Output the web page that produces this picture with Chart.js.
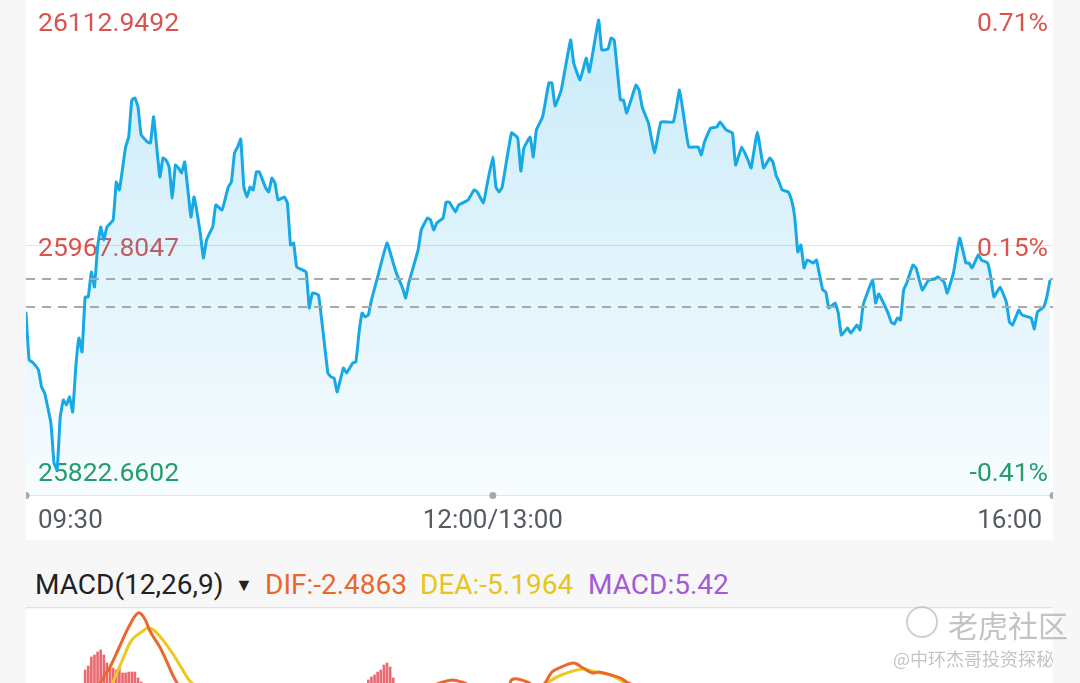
<!DOCTYPE html>
<html>
<head>
<meta charset="utf-8">
<script src="https://cdn.jsdelivr.net/npm/chart.js"></script>
<style>
  html, body { margin: 0; padding: 0; background: #f7f7f7; width: 1080px; height: 683px; overflow: hidden; font-family: Roboto, "Noto Sans", sans-serif; }
  #main { position: absolute; left: 26px; top: 0; background: #fff; }
  #macd { position: absolute; left: 26px; top: 609px; background: #fff; }
  #sep { position: absolute; left: 26px; top: 607px; width: 1027px; height: 1px; background: #e2e2e2; }
  .hdr { position: absolute; top: 567px; font-size: 28px; line-height: 36px; white-space: nowrap; }
  .wm { position: absolute; color: rgba(175,175,175,0.75); white-space: nowrap; font-family: "Noto Sans CJK SC", sans-serif; }
</style>
</head>
<body>
<canvas id="main" width="1027" height="540"></canvas>
<div id="sep"></div>
<canvas id="macd" width="1027" height="200"></canvas>
<div class="hdr" style="left:35px;color:#222;">MACD(12,26,9)</div>
<div class="hdr" style="left:235px;color:#222;font-size:18px;top:567px;">&#9660;</div>
<div class="hdr" style="left:265px;color:#e8692e;">DIF:-2.4863</div>
<div class="hdr" style="left:420px;color:#e6c521;">DEA:-5.1964</div>
<div class="hdr" style="left:588px;color:#a35bd6;">MACD:5.42</div>
<div class="wm" style="left:906px;top:606px;width:28px;height:28px;border:2px solid rgba(195,195,195,0.8);border-radius:50%;"></div>
<div class="wm" style="left:948px;top:602px;font-size:30px;">老虎社区</div>
<div class="wm" style="left:893px;top:645px;font-size:18px;">@中环杰哥投资探秘</div>
<script>
// intraday price, minute index from 09:30 (0) to 16:00 (330), lunch break removed
const minutes = [0,1,2,4,5,6,8,9,10,11,12,13,14,15,16,17,18,19,20,21,22,23,24,25,26,28,29,30,32,33,34,35,36,37,39,40,41,43,44,45,46,47,48,49,50,51,53,54,56,57,58,59,60,61,63,65,66,67,68,69,70,71,72,73,74,75,77,78,79,80,81,83,84,85,86,87,90,91,92,94,97,98,99,100,102,103,105,106,107,108,109,110,111,113,116,118,119,121,122,123,126,127,129,130,131,132,134,135,136,138,139,142,144,145,147,148,150,151,152,153,156,158,159,160,162,163,164,166,168,169,170,172,175,176,178,180,181,184,185,187,188,189,190,191,192,193,196,197,198,200,202,204,208,210,212,213,216,217,218,220,222,223,225,227,228,230,232,233,235,237,239,240,241,242,243,245,246,247,248,249,250,251,253,254,256,257,258,260,261,262,264,265,267,268,269,272,273,274,277,278,279,280,281,282,283,285,286,288,290,292,293,295,296,298,300,302,303,304,306,307,309,310,311,313,315,316,317,319,320,322,323,324,325,327,328,329];
const prices = [25923.9,25893.6,25892.3,25887.2,25876.2,25872.3,25853.0,25827.2,25822.7,25856.9,25867.8,25864.6,25869.8,25860.1,25889.1,25907.8,25898.8,25934.3,25934.3,25950.4,25940.7,25966.5,25979.4,25971.0,25979.4,25983.9,26008.4,26003.3,26031.0,26037.5,26061.3,26062.6,26056.8,26038.8,26034.3,26033.6,26050.4,26011.7,26023.9,26022.6,26018.1,25998.1,26019.4,26017.5,26014.3,26021.4,25985.9,25998.8,25975.5,25959.4,25971.0,25975.5,25979.4,25993.6,25990.4,26005.2,26008.4,26027.2,26031.0,26036.2,26005.2,25998.8,26005.2,26003.3,26014.9,26014.9,26004.6,26002.0,26011.0,26007.8,25996.8,25998.8,25994.9,25967.8,25969.1,25953.6,25950.4,25927.2,25936.8,25935.6,25885.2,25882.7,25882.0,25873.0,25888.5,25885.2,25891.7,25892.3,25911.0,25923.9,25921.4,25922.7,25932.3,25947.2,25969.1,25956.2,25949.7,25940.1,25933.6,25943.3,25964.6,25977.5,25985.2,25983.9,25977.5,25982.0,25985.2,25995.5,25995.5,25989.1,25993.6,25996.8,26003.3,26002.0,25994.9,26005.2,26024.6,26005.2,26002.0,26005.2,26040.1,26036.8,26015.5,26030.4,26037.5,26024.6,26042.0,26050.4,26072.3,26072.3,26057.5,26067.8,26100.1,26085.2,26074.2,26088.4,26079.4,26112.9,26093.6,26094.2,26101.3,26100.1,26080.7,26061.3,26061.3,26053.0,26071.0,26067.8,26056.8,26046.5,26027.2,26047.2,26047.2,26067.8,26042.0,26031.0,26031.0,26025.9,26034.3,26043.3,26043.9,26047.2,26042.0,26040.1,26019.4,26031.0,26022.6,26017.5,26040.7,26017.5,26023.9,26021.4,26013.0,26008.4,26003.3,26002.0,25996.8,25985.9,25963.3,25967.8,25953.0,25958.1,25956.2,25958.1,25938.8,25937.5,25927.2,25930.4,25923.9,25909.7,25914.3,25911.0,25916.2,25913.0,25929.1,25945.2,25930.4,25936.2,25923.9,25918.1,25916.8,25920.7,25919.4,25938.8,25943.3,25954.9,25953.0,25938.8,25945.2,25945.9,25947.2,25943.9,25936.8,25949.7,25972.3,25956.2,25956.2,25953.0,25961.4,25958.1,25956.2,25947.2,25934.3,25940.7,25931.0,25918.1,25916.2,25925.9,25922.7,25921.4,25920.7,25913.6,25924.6,25927.8,25934.3,25944.6];

const priceLevels = [26112.9492, 25967.8047, 25822.6602];
const priceLabels = ['26112.9492', '25967.8047', '25822.6602'];
const pctLabels = ['0.71%', '0.15%', '-0.41%'];
const refLines = [25945.9, 25928.0];   // dashed: average / previous close
const tickMinutes = [0, 150, 330];
const tickLabels = ['09:30', '12:00/13:00', '16:00'];

// MACD panel (only the top of it is in view)
const difMinutes = [0,10,20,24,27,30,33,36,38,40,43,45,48,55,70,90,100,115,125,134,137,140,145,155,156,158,161,165,167,169,172,176,179,182,184,188,191,193,200,215,230,245,260,275,290,305,320,329];
const difValues  = [0,-5,3,9.5,13.25,18.25,23.25,26.75,25.5,22,18.25,15,10,2,-3,-2,-6,5,7,9.5,10,9.5,8,8.5,10,10.25,9.5,8,9.5,12,13.25,14.25,13,11.75,12,11.25,10.5,9.5,7,4,3,1,-3,-6,-7,-5,-4,-2.4863];
const deaMinutes = [0,15,25,28,31,34,38,39,41,44,47,50,53,60,75,90,105,120,135,150,165,168,172,179,183,188,192,205,220,240,260,280,300,320,329];
const deaValues  = [0,-2,2,9.5,15,20,22.5,23,22.5,20,16.75,13,9.5,6,2,0,-2,2,5,6,7,9.5,11.25,12.75,12,11.25,9.5,6,4,2,-1,-4,-5.5,-5.3,-5.1964];
const barMinutes = [19,20,21,22,23,24,25,26,27,28,29,30,31,32,33,34,35,36,37,110,111,112,113,114,115,116,117,118,329];
const barValues  = [12.5,13.5,15.75,16.25,17,17.5,16.25,14.25,13,13,12.5,13,11.75,11.75,12,12,12,10.5,9.5,10,10.75,11.25,12,12.5,13.75,14.25,13.25,10.5,5.42];

const RED = '#d9534f', GREEN = '#249d66', BLUE = '#16a9e6';

const overlay = {
  id: 'overlay',
  beforeDatasetsDraw(chart) {
    const { ctx, chartArea, scales } = chart;
    ctx.save();
    // mid grid line
    const yMid = scales.y.getPixelForValue(priceLevels[1]);
    ctx.strokeStyle = '#e3e3e3';
    ctx.lineWidth = 1;
    ctx.beginPath();
    ctx.moveTo(chartArea.left, yMid + 0.5);
    ctx.lineTo(chartArea.right, yMid + 0.5);
    ctx.stroke();
    // price / percent labels
    ctx.font = '26.5px Roboto';
    ctx.textBaseline = 'middle';
    priceLevels.forEach((v, i) => {
      const y = scales.y.getPixelForValue(v) + 4;
      ctx.fillStyle = i < 2 ? RED : GREEN;
      ctx.textAlign = 'left';
      ctx.fillText(priceLabels[i], 12, y);
      ctx.textAlign = 'right';
      ctx.fillText(pctLabels[i], 1022, y);
    });
    ctx.restore();
  },
  afterDatasetsDraw(chart) {
    const { ctx, chartArea, scales } = chart;
    ctx.save();
    ctx.strokeStyle = '#a9a9a9';
    ctx.lineWidth = 2;
    ctx.setLineDash([9, 7]);
    refLines.forEach(v => {
      const y = Math.round(scales.y.getPixelForValue(v));
      ctx.beginPath();
      ctx.moveTo(chartArea.left, y);
      ctx.lineTo(chartArea.right, y);
      ctx.stroke();
    });
    ctx.setLineDash([]);
    // x axis line with dots
    const yAxis = chartArea.bottom + 0.5;
    ctx.strokeStyle = '#e4e4e4';
    ctx.lineWidth = 1;
    ctx.beginPath();
    ctx.moveTo(chartArea.left, yAxis);
    ctx.lineTo(chartArea.right, yAxis);
    ctx.stroke();
    ctx.fillStyle = '#a8a8a8';
    tickMinutes.forEach(m => {
      ctx.beginPath();
      ctx.arc(scales.x.getPixelForValue(m), yAxis, 3.5, 0, Math.PI * 2);
      ctx.fill();
    });
    // time labels
    ctx.font = '26px Roboto';
    ctx.fillStyle = '#555a63';
    ctx.textBaseline = 'middle';
    const aligns = ['left', 'center', 'right'];
    const xs = [12, scales.x.getPixelForValue(tickMinutes[1]), 1016];
    tickLabels.forEach((t, i) => {
      ctx.textAlign = aligns[i];
      ctx.fillText(t, xs[i], 521);
    });
    ctx.restore();
  }
};

new Chart(document.getElementById('main').getContext('2d'), {
  type: 'line',
  data: {
    datasets: [{
      data: minutes.map((m, i) => ({ x: m, y: prices[i] })),
      borderColor: BLUE,
      borderWidth: 3,
      borderJoinStyle: 'round',
      borderCapStyle: 'round',
      pointRadius: 0,
      tension: 0.1,
      fill: 'start',
      backgroundColor: function (context) {
        const { ctx, chartArea } = context.chart;
        if (!chartArea) return 'rgba(22,169,230,0.15)';
        const g = ctx.createLinearGradient(0, chartArea.top, 0, chartArea.bottom);
        g.addColorStop(0, 'rgba(22,169,230,0.24)');
        g.addColorStop(1, 'rgba(22,169,230,0.03)');
        return g;
      }
    }]
  },
  options: {
    responsive: false,
    animation: false,
    layout: { padding: { left: 0, right: 0, top: 0, bottom: 45 } },
    plugins: { legend: { display: false }, tooltip: { enabled: false } },
    scales: {
      x: { type: 'linear', min: 0, max: 330, display: false },
      y: { min: 25806.53, max: 26125.85, display: false }
    }
  },
  plugins: [overlay]
});

new Chart(document.getElementById('macd').getContext('2d'), {
  type: 'bar',
  data: {
    datasets: [
      {
        type: 'line',
        data: difMinutes.map((m, i) => ({ x: m, y: difValues[i] })),
        borderColor: '#e8692e',
        borderWidth: 3,
        pointRadius: 0,
        tension: 0.35
      },
      {
        type: 'line',
        data: deaMinutes.map((m, i) => ({ x: m, y: deaValues[i] })),
        borderColor: '#eec81e',
        borderWidth: 3,
        pointRadius: 0,
        tension: 0.35
      },
      {
        data: barMinutes.map((m, i) => ({ x: m, y: barValues[i] })),
        backgroundColor: 'rgba(229,80,88,0.85)',
        barThickness: 2
      }
    ]
  },
  options: {
    responsive: false,
    animation: false,
    layout: { padding: 0 },
    plugins: { legend: { display: false }, tooltip: { enabled: false } },
    scales: {
      x: { type: 'linear', min: 0, max: 330, display: false, offset: false },
      y: { min: -22.25, max: 27.75, display: false }
    }
  }
});
</script>
</body>
</html>
